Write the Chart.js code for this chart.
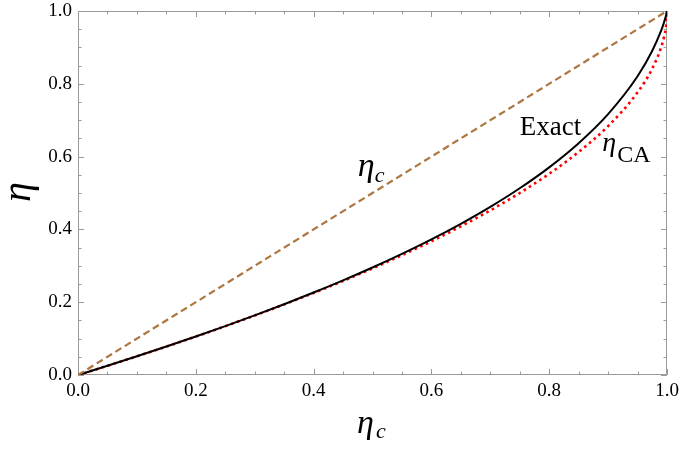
<!DOCTYPE html>
<html>
<head>
<meta charset="utf-8">
<script src="https://cdn.jsdelivr.net/npm/chart.js@4/dist/chart.umd.min.js"></script>
<style>
html,body{margin:0;padding:0;background:#fff;}
canvas{display:block;}
</style>
</head>
<body>
<canvas id="c" width="681" height="449"></canvas>
<script>
// Data
const etaC = [0, 0.05, 0.1, 0.15, 0.2, 0.25, 0.3, 0.35, 0.4, 0.45, 0.5, 0.55, 0.6, 0.65, 0.7, 0.75, 0.8, 0.85, 0.9, 0.95, 0.975, 0.99, 0.995, 0.999, 1];
const exact = [0, 0.0253, 0.0513, 0.0781, 0.1057, 0.1342, 0.1637, 0.1944, 0.2265, 0.2600, 0.2953, 0.3327, 0.3725, 0.4153, 0.4618, 0.5130, 0.5705, 0.6368, 0.7167, 0.8206, 0.8908, 0.9460, 0.9692, 0.9920, 1];
const etaCA = [0, 0.0253, 0.0513, 0.0781, 0.1056, 0.1340, 0.1633, 0.1938, 0.2254, 0.2584, 0.2929, 0.3292, 0.3675, 0.4084, 0.4523, 0.5000, 0.5528, 0.6127, 0.6838, 0.7764, 0.8419, 0.9000, 0.9293, 0.9684, 1];
const carnotX = [0, 1];
const carnotY = [0, 1];
const tickValues = [0, 0.2, 0.4, 0.6, 0.8, 1.0];

const pts = (xs, ys) => xs.map((x, i) => ({x: x, y: ys[i]}));

const frameColor = '#9a9a9a';

const framePlugin = {
  id: 'frameTicks',
  beforeDatasetsDraw(chart) {
    const {ctx, chartArea: a, scales: {x, y}} = chart;
    ctx.save();
    ctx.strokeStyle = frameColor;
    ctx.lineWidth = 1;
    ctx.beginPath();
    ctx.rect(a.left + 0.5, a.top + 0.5, a.right - a.left - 1, a.bottom - a.top - 1);
    ctx.stroke();
    ctx.beginPath();
    for (let i = 0; i <= 20; i++) {
      const v = i * 0.05;
      const major = (i % 4 === 0);
      const len = major ? 6 : 3.5;
      const px = Math.round(x.getPixelForValue(v)) + 0.5;
      ctx.moveTo(px, a.bottom); ctx.lineTo(px, a.bottom - len);
      ctx.moveTo(px, a.top); ctx.lineTo(px, a.top + len);
      const py = Math.round(y.getPixelForValue(v)) + 0.5;
      ctx.moveTo(a.left, py); ctx.lineTo(a.left + len, py);
      ctx.moveTo(a.right, py); ctx.lineTo(a.right - len, py);
    }
    ctx.stroke();
    ctx.restore();
  },
  afterDraw(chart) {
    const {ctx, scales: {x, y}} = chart;
    ctx.save();
    ctx.fillStyle = '#000';
    ctx.textBaseline = 'alphabetic';
    ctx.textAlign = 'left';
    // in-plot label eta_c
    ctx.font = 'italic 34px "Liberation Serif"';
    const lx = x.getPixelForValue(0.475), ly = y.getPixelForValue(0.546);
    ctx.fillText('\u03B7', lx, ly);
    ctx.font = 'italic 22px "Liberation Serif"';
    ctx.fillText('c', lx + 17, ly + 6);
    // Exact
    ctx.font = '27px "Liberation Serif"';
    ctx.fillText('Exact', x.getPixelForValue(0.75), y.getPixelForValue(0.659));
    // eta_CA
    const cx = x.getPixelForValue(0.890), cy = y.getPixelForValue(0.615);
    ctx.font = 'italic 28px "Liberation Serif"';
    ctx.fillText('\u03B7', cx, cy);
    ctx.font = '24px "Liberation Serif"';
    ctx.fillText('CA', cx + 15, cy + 11);
    // x axis title
    ctx.font = 'italic 34px "Liberation Serif"';
    ctx.fillText('\u03B7', 357, 433);
    ctx.font = 'italic 22px "Liberation Serif"';
    ctx.fillText('c', 376, 438);
    // y axis title (rotated)
    ctx.translate(30, 192);
    ctx.rotate(-Math.PI / 2);
    ctx.font = 'italic 40px "Liberation Serif"';
    ctx.textAlign = 'center';
    ctx.fillText('\u03B7', 0, 0);
    ctx.restore();
  }
};

new Chart(document.getElementById('c'), {
  type: 'line',
  data: {
    datasets: [
      {
        label: 'carnot',
        data: pts(carnotX, carnotY),
        borderColor: '#ad7640',
        borderWidth: 2.2,
        borderDash: [7, 4],
        pointRadius: 0,
        fill: false
      },
      {
        label: 'Exact',
        data: pts(etaC, exact),
        borderColor: '#000000',
        borderWidth: 2,
        pointRadius: 0,
        cubicInterpolationMode: 'monotone',
        fill: false
      },
      {
        label: 'CA',
        data: pts(etaC, etaCA),
        borderColor: '#ff0000',
        borderWidth: 2.6,
        borderDash: [2.6, 3.6],
        pointRadius: 0,
        cubicInterpolationMode: 'monotone',
        fill: false
      }
    ]
  },
  options: {
    responsive: false,
    devicePixelRatio: 1,
    animation: false,
    layout: {padding: {top: 11, right: 14, left: 0, bottom: 0}},
    plugins: {legend: {display: false}, tooltip: {enabled: false}},
    scales: {
      x: {
        type: 'linear',
        min: 0, max: 1,
        afterFit(s) { s.height = 74; s.paddingLeft = 0; s.paddingRight = 0; },
        afterBuildTicks(s) { s.ticks = tickValues.map(v => ({value: v})); },
        grid: {drawOnChartArea: false, drawTicks: false},
        border: {display: false},
        ticks: {
          color: '#000',
          padding: 5,
          maxRotation: 0,
          autoSkip: false,
          font: {family: '"Liberation Serif"', size: 19},
          callback: v => Number(v).toFixed(1)
        }
      },
      y: {
        type: 'linear',
        min: 0, max: 1,
        afterFit(s) { s.width = 78; s.paddingTop = 0; s.paddingBottom = 0; },
        afterBuildTicks(s) { s.ticks = tickValues.map(v => ({value: v})); },
        grid: {drawOnChartArea: false, drawTicks: false},
        border: {display: false},
        ticks: {
          color: '#000',
          padding: 6,
          autoSkip: false,
          font: {family: '"Liberation Serif"', size: 19},
          callback: v => Number(v).toFixed(1)
        }
      }
    }
  },
  plugins: [framePlugin]
});
</script>
</body>
</html>
